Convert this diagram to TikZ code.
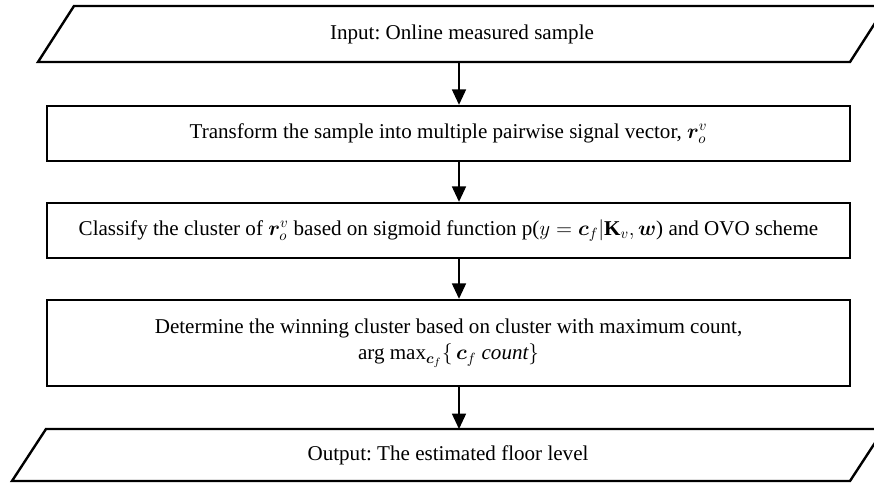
\RequirePackage{fix-cm}
\documentclass[tikz,border=0pt]{standalone}
\usepackage{amsmath,bm}
\usepackage{fontspec}
\setmainfont{Liberation Serif}
\usetikzlibrary{arrows.meta,calc}
\frenchspacing

\begin{document}
\begin{tikzpicture}[x=0.75pt,y=-0.75pt,
  txt/.style={font=\fontsize{15.8}{20}\selectfont, align=center},
  stepbox/.style={txt, draw, line width=1.8pt, minimum width=602.25pt, inner sep=0pt},
  iobox/.style={txt, minimum width=#1, inner sep=0pt, outer sep=0pt},
  ioedge/.style={line width=1.8pt, line join=miter},
  flow/.style={line width=1.1pt, -{Triangle[length=11.5pt,width=10.5pt]}}]
\useasboundingbox (0,0) rectangle (874,484);
\clip (0,0) rectangle (874,484);

% x position of the vertical connectors
\coordinate (ax) at (459,0);

% input parallelogram
\node[iobox=609pt, minimum height=42pt] (in) at (462,34) {Input: Online measured sample};
\draw[ioedge] ($(in.south west)+(-18,0)$) -- ($(in.north west)+(18,0)$)
  -- ($(in.north east)+(18,0)$) -- ($(in.south east)+(-18,0)$) -- cycle;

% processing steps
\node[stepbox, minimum height=41.25pt] (tr) at (448.5,133.5)
  {Transform the sample into multiple pairwise signal vector, $\bm{r}_o^{v}$};
\node[stepbox, minimum height=41.25pt] (cl) at (448.5,230.5)
  {Classify the cluster of $\bm{r}_o^{v}$ based on sigmoid function p($y=\bm{c}_f|\mathbf{K}_v,\bm{w}$) and OVO scheme};
\node[stepbox, minimum height=64.5pt] (wc) at (448.5,343)
  {Determine the winning cluster based on cluster with maximum count,\\
   arg max$_{\bm{c}_f}\{\,\bm{c}_f\ \mathit{count}\}$};

% output parallelogram
\node[iobox=628.5pt, minimum height=39pt] (out) at (448,455) {Output: The estimated floor level};
\draw[ioedge] ($(out.south west)+(-17,0)$) -- ($(out.north west)+(17,0)$)
  -- ($(out.north east)+(17,0)$) -- ($(out.south east)+(-17,0)$) -- cycle;

% connectors
\draw[flow] (in.south -| ax) -- (tr.north -| ax);
\draw[flow] (tr.south -| ax) -- (cl.north -| ax);
\draw[flow] (cl.south -| ax) -- (wc.north -| ax);
\draw[flow] (wc.south -| ax) -- (out.north -| ax);
\end{tikzpicture}
\end{document}
